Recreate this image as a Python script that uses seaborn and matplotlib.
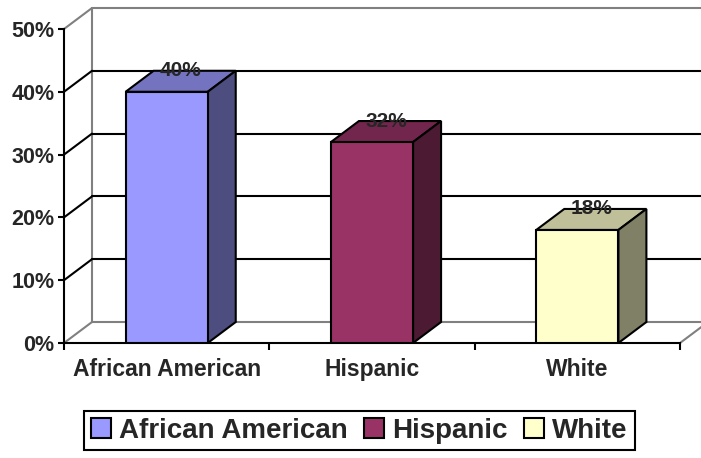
import matplotlib
matplotlib.use("Agg")
import matplotlib.pyplot as plt
from matplotlib.patches import Polygon, Patch
import seaborn as sns

# Share of each group (percent)
categories = ["African American", "Hispanic", "White"]
values = [40, 32, 18]
y_ticks = [0, 10, 20, 30, 40, 50]
y_tick_labels = ["0%", "10%", "20%", "30%", "40%", "50%"]

front_colors = ["#9999FF", "#993366", "#FFFFCC"]
top_colors = ["#7373BF", "#73264D", "#BFBF99"]
side_colors = ["#4D4D80", "#4D1A33", "#808066"]

sns.set_style("white")
plt.rcParams["font.family"] = ["Liberation Sans", "DejaVu Sans"]
plt.rcParams["font.weight"] = "bold"

W, H = 701, 458
fig = plt.figure(figsize=(W / 100, H / 100), dpi=100)
ax = fig.add_axes([64 / W, (H - 343) / H, 616 / W, 314 / H])

sns.barplot(x=categories, y=values, hue=categories, palette=front_colors,
            width=0.4, ax=ax, edgecolor="black", linewidth=1.5,
            legend=False, zorder=5, saturation=1)

ax.set_xlim(-0.5, 2.5)
ax.set_ylim(0, 50)

# depth of the pseudo-3D box in data units (28 px right, 21 px up)
dx = 28 / 616 * 3
dy = 21 / 314 * 50
gray = "#808080"
lw = 1.5

x_left, x_right = -0.5, 2.5
# back wall and floor outline
ax.plot([x_left + dx, x_left + dx], [dy, 50 + dy], color=gray, lw=lw, clip_on=False, zorder=1)
ax.plot([x_left + dx, x_right + dx + 0.2], [50 + dy, 50 + dy], color=gray, lw=lw, clip_on=False, zorder=1)
ax.plot([x_left, x_left + dx], [50, 50 + dy], color=gray, lw=lw, clip_on=False, zorder=1)
ax.plot([x_left, x_left + dx], [0, dy], color=gray, lw=lw, clip_on=False, zorder=1)
ax.plot([x_left + dx, x_right + dx + 0.2], [dy, dy], color=gray, lw=lw, clip_on=False, zorder=1)
ax.plot([x_right, x_right + dx], [0, dy], color=gray, lw=lw, clip_on=False, zorder=1)

# gridlines on the side and back walls
for v in y_ticks[1:-1]:
    ax.plot([x_left, x_left + dx], [v, v + dy], color="black", lw=lw, clip_on=False, zorder=2)
    ax.plot([x_left + dx, x_right + dx + 0.2], [v + dy, v + dy], color="black", lw=lw,
            clip_on=False, zorder=2)

# top and side faces of each bar
bars = [p for p in ax.patches]
for i, p in enumerate(bars):
    x0, w, h = p.get_x(), p.get_width(), p.get_height()
    top = Polygon([(x0, h), (x0 + w, h), (x0 + w + dx, h + dy), (x0 + dx, h + dy)],
                  closed=True, facecolor=top_colors[i], edgecolor="black", lw=lw,
                  clip_on=False, zorder=4, joinstyle="miter")
    side = Polygon([(x0 + w, 0), (x0 + w + dx, dy), (x0 + w + dx, h + dy), (x0 + w, h)],
                   closed=True, facecolor=side_colors[i], edgecolor="black", lw=lw,
                   clip_on=False, zorder=4, joinstyle="miter")
    ax.add_patch(top)
    ax.add_patch(side)
    ax.text(x0 + w / 2 + dx / 2, h + dy, f"{values[i]}%", ha="center", va="center",
            fontsize=15, fontweight="bold", zorder=6)

# axes
for s in ["top", "right"]:
    ax.spines[s].set_visible(False)
for s in ["left", "bottom"]:
    ax.spines[s].set_color("black")
    ax.spines[s].set_linewidth(lw)
    ax.spines[s].set_zorder(3)

ax.set_yticks(y_ticks)
ax.set_yticklabels(y_tick_labels, fontsize=15.5, fontweight="bold")
ax.tick_params(axis="y", direction="out", length=4, width=lw, color="black", pad=3, left=True)

ax.set_xticks([-0.5, 0.5, 1.5, 2.5])
ax.set_xticklabels([])
ax.tick_params(axis="x", which="major", direction="out", length=5, width=lw, color="black", bottom=True)
ax.set_xticks([0, 1, 2], minor=True)
ax.set_xticklabels(categories, minor=True, fontsize=16.5, fontweight="bold")
ax.tick_params(axis="x", which="minor", length=0, pad=11)
ax.set_xlabel("")
ax.set_ylabel("")

handles = [Patch(facecolor=c, edgecolor="black", linewidth=1.5) for c in front_colors]
leg = fig.legend(handles, categories, loc="center", bbox_to_anchor=(359.5 / W, 1 - 430.5 / H),
                 ncol=3, frameon=True, fancybox=False, framealpha=1, edgecolor="black",
                 prop={"size": 20, "weight": "bold"}, handlelength=0.7, handleheight=0.7,
                 handletextpad=0.3, columnspacing=0.6, borderpad=0.25, borderaxespad=0)
leg.get_frame().set_linewidth(1.5)

fig.savefig("out.png", dpi=100)
